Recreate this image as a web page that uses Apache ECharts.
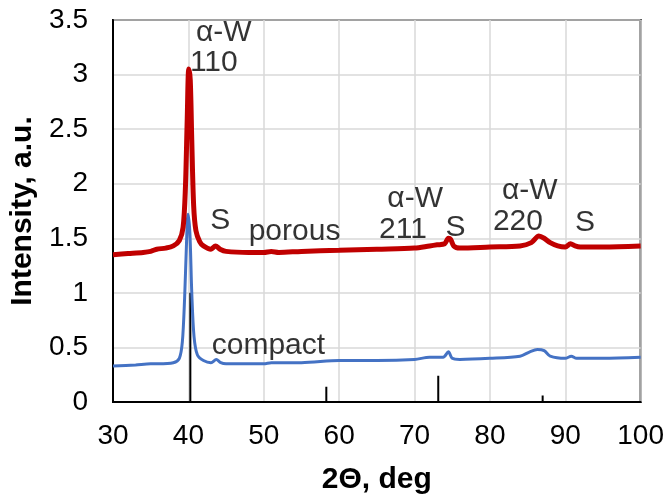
<!DOCTYPE html>
<html>
<head>
<meta charset="utf-8">
<script src="https://cdn.jsdelivr.net/npm/echarts@6/dist/echarts.min.js"></script>
<style>html,body{margin:0;padding:0;background:#fff}#c{width:667px;height:500px}</style>
</head>
<body>
<div id="c"></div>
<script>
// Porous (red) curve: [2theta, intensity]
var porous = [
  [30,1.35],[32,1.36],[34,1.37],[35,1.38],[35.8,1.40],[37,1.41],[38,1.43],[38.8,1.48],[39.3,1.60],
  [39.6,1.95],[39.85,2.6],[40.05,3.05],[40.25,2.95],[40.45,2.4],[40.7,1.8],[41,1.57],[41.5,1.47],
  [42,1.43],[43,1.40],[43.6,1.43],[44.2,1.40],[45,1.38],[48,1.37],[50,1.37],[51,1.38],[52,1.37],
  [55,1.38],[60,1.39],[65,1.40],[70,1.41],[72,1.43],[73,1.44],[74,1.45],[74.5,1.50],[74.8,1.49],
  [75.2,1.43],[76,1.41],[80,1.42],[84,1.43],[85.5,1.46],[86.5,1.52],[87.2,1.50],[88,1.46],[89,1.43],
  [90,1.42],[90.7,1.45],[91.3,1.43],[92,1.42],[95,1.42],[100,1.43]
];
// Compact (blue) curve
var compact = [
  [30,0.33],[33,0.34],[35,0.35],[36,0.35],[38,0.36],[38.8,0.40],[39.2,0.55],[39.5,0.95],
  [39.75,1.45],[39.95,1.72],[40.2,1.55],[40.45,1.0],[40.75,0.6],[41.2,0.43],[42,0.38],[43,0.36],
  [43.7,0.39],[44.3,0.36],[45,0.35],[50,0.35],[51,0.36],[55,0.36],[60,0.38],[62,0.38],[65,0.38],
  [70,0.39],[72,0.41],[73.8,0.41],[74.5,0.46],[75,0.40],[76,0.39],[80,0.40],[84,0.42],[85.3,0.46],
  [86.3,0.48],[87.2,0.47],[88,0.42],[90,0.40],[90.8,0.42],[91.5,0.40],[95,0.40],[100,0.41]
];
// Reference stick pattern (alpha-W)
var sticks = [[40.26,1.0],[58.3,0.14],[73.15,0.24],[87.0,0.06]];
// Annotations [x, y, text]
var annotations = [
  [41.0,3.38,'α-W'],[40.2,3.11,'110'],[42.9,1.66,'S'],[48.0,1.56,'porous'],
  [66.4,1.86,'α-W'],[65.3,1.58,'211'],[74.1,1.60,'S'],
  [81.6,1.94,'α-W'],[80.4,1.655,'220'],[91.3,1.64,'S'],[43.1,0.52,'compact']
];
var xTicks = {min:30, max:100, interval:10};
var yTicks = {min:0, max:3.5, interval:0.5};

var stickData = [];
sticks.forEach(function(s){ stickData.push([s[0],0]); stickData.push([s[0],s[1]]); stickData.push([s[0],null]); });

var chart = echarts.init(document.getElementById('c'), null, {renderer:'canvas'});
var font = 'Liberation Sans, Arial, sans-serif';
chart.setOption({
  animation:false,
  grid:{left:113, right:25, top:20, bottom:93, show:true, borderColor:'#000', borderWidth:2},
  xAxis:{type:'value', min:xTicks.min, max:xTicks.max, interval:xTicks.interval,
    name:'2Θ, deg', nameLocation:'middle', nameGap:63,
    nameTextStyle:{fontFamily:font, fontSize:30, fontWeight:'bold', color:'#000'},
    axisLine:{show:true, onZero:false, lineStyle:{color:'#000', width:2}},
    axisTick:{show:false},
    axisLabel:{fontFamily:font, fontSize:28, color:'#000', margin:20},
    splitLine:{show:true, lineStyle:{color:'#d9d9d9', width:1.5}}
  },
  yAxis:{type:'value', min:yTicks.min, max:yTicks.max, interval:yTicks.interval,
    name:'Intensity, a.u.', nameLocation:'middle', nameGap:73, nameRotate:90,
    nameTextStyle:{fontFamily:font, fontSize:30, fontWeight:'bold', color:'#000'},
    axisLine:{show:true, lineStyle:{color:'#000', width:2}},
    axisTick:{show:false},
    axisLabel:{fontFamily:font, fontSize:28, color:'#000', margin:25},
    splitLine:{show:true, lineStyle:{color:'#d9d9d9', width:1.5}}
  },
  series:[
    {type:'line', data:stickData, symbol:'none', connectNulls:false,
     lineStyle:{color:'#000', width:2}, z:1},
    {type:'line', data:compact, symbol:'none', smooth:0.3,
     lineStyle:{color:'#4472C4', width:3}, z:2},
    {type:'line', data:porous, symbol:'none', smooth:0.3,
     lineStyle:{color:'#C00000', width:5}, z:3},
    {type:'scatter', symbolSize:0, z:4,
     data:annotations.map(function(a){return {value:[a[0],a[1]], name:a[2]};}),
     label:{show:true, position:'inside', align:'left', verticalAlign:'middle',
       formatter:function(p){return p.name;},
       fontFamily:font, fontSize:30, color:'#000'}
    }
  ]
});
</script>
</body>
</html>
